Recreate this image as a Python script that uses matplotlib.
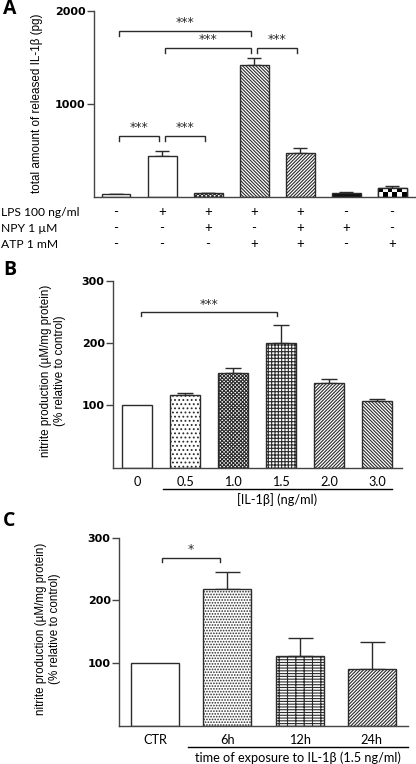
import matplotlib
matplotlib.use("Agg")
import matplotlib.pyplot as plt
import matplotlib.transforms as mtransforms
import numpy as np

# ── Data ─────────────────────────────────────────────────────────
# Panel A: released IL-1b (pg)
a_vals = [30, 440, 40, 1415, 470, 46, 100]
a_err = [5, 58, 5, 83, 53, 4, 15]
a_lps = ["-", "+", "+", "+", "+", "-", "-"]
a_npy = ["-", "-", "+", "-", "+", "+", "-"]
a_atp = ["-", "-", "-", "+", "+", "-", "+"]
a_rows = ["LPS 100 ng/ml", "NPY 1 µM", "ATP 1 mM"]
a_brackets = [(0, 3, 1790), (1, 3, 1605), (3, 4, 1605), (0, 1, 656), (1, 2, 656)]

# Panel B: nitrite vs IL-1b concentration
b_labels = ["0", "0.5", "1.0", "1.5", "2.0", "3.0"]
b_vals = [100, 117, 152, 201, 136, 107]
b_err = [0, 3, 8, 29, 6, 3]
b_brackets = [(0, 3, 250)]

# Panel C: nitrite vs exposure time
c_labels = ["CTR", "6h", "12h", "24h"]
c_vals = [100, 218, 111, 91]
c_err = [0, 27, 29, 43]
c_brackets = [(0, 1, 268)]

# ── Style ────────────────────────────────────────────────────────
INK = "#2b2b2b"
plt.rcParams.update(
    {
        "hatch.linewidth": 0.8,
        "axes.linewidth": 1.0,
        "axes.edgecolor": "#444444",
        "font.family": "Liberation Sans",
    }
)
TICK_FONT = dict(family="DejaVu Sans", weight="bold", size=8)
CAL_FONT = dict(family="Lato", size=9.2)

fig = plt.figure(figsize=(4.16, 7.64), dpi=100)
W, H = 416.0, 764.0


def make_axes(left, right, top, bottom):
    return fig.add_axes([left / W, 1 - bottom / H, (right - left) / W, (bottom - top) / H])


def style_axes(ax, yticks, ylim):
    for s in ("top", "right"):
        ax.spines[s].set_visible(False)
    ax.set_ylim(*ylim)
    ax.set_yticks(yticks)
    ax.set_yticklabels([str(t) for t in yticks], fontdict=TICK_FONT)
    ax.tick_params(axis="y", length=5, width=1.0, pad=1, color="#444444")
    ax.tick_params(axis="x", length=0)


def draw_brackets(ax, brackets, drop, star, star_size=9, inset=0.06):
    for i, j, y in brackets:
        x1, x2 = i + inset, j - inset
        ax.plot([x1, x1, x2, x2], [y - drop, y, y, y - drop], color=INK, lw=1.0,
                clip_on=False, solid_joinstyle="miter")
        ax.text((x1 + x2) / 2, y + drop * 0.3, star, ha="center", va="bottom",
                fontsize=star_size, color=INK, family="DejaVu Sans")


def upper_errors(ax, x, vals, err, capsize):
    x = np.asarray(x)
    vals = np.asarray(vals, dtype=float)
    err = np.asarray(err, dtype=float)
    keep = err > 0
    ax.errorbar(x[keep], vals[keep], yerr=[np.zeros(keep.sum()), err[keep]],
                fmt="none", ecolor=INK, elinewidth=1.0, capsize=capsize,
                capthick=1.0, zorder=1)


# ── Panel A ──────────────────────────────────────────────────────
axA = make_axes(94, 416, 11, 197)
xa = np.arange(len(a_vals))
a_hatch = [None, None, "xxxxxxxx", "\\" * 10, "/" * 10, None, None]
a_face = ["white", "white", "white", "white", "white", "#111111", "white"]
upper_errors(axA, xa, a_vals, a_err, 5)
barsA = axA.bar(xa, a_vals, width=0.63, color=a_face, edgecolor=INK,
                linewidth=1.0, hatch=a_hatch, zorder=2)
# checkerboard fill for the last bar
p = barsA[6]
checker = np.indices((2, 6)).sum(axis=0) % 2
im = axA.imshow(checker, extent=(p.get_x(), p.get_x() + p.get_width(), 0, p.get_height()),
                cmap="gray", interpolation="nearest", aspect="auto", zorder=2.5)
im.set_clip_path(p)
axA.bar(xa[6:], a_vals[6:], width=0.63, color="none", edgecolor=INK, linewidth=1.0, zorder=3)
axA.set_xlim(-0.478, 6.52)
style_axes(axA, [1000, 2000], (0, 2000))
axA.set_xticks([])
axA.set_ylabel("total amount of released IL-1β (pg)", fontsize=8.4)
axA.yaxis.set_label_coords(-0.158, 0.505)
draw_brackets(axA, a_brackets, 55, "***")

trA = mtransforms.blended_transform_factory(axA.transData, axA.transAxes)
for r, (row, signs) in enumerate(zip(a_rows, [a_lps, a_npy, a_atp])):
    yy = -(15 + 16 * r) / 186.0
    fig.text(1 / W, 1 - (212 + 16 * r) / H, row, ha="left", va="center",
             family="Lato", fontsize=8.7)
    for i, s in enumerate(signs):
        axA.text(xa[i], yy, s, transform=trA, ha="center", va="center",
                 family="Lato", fontsize=9.5)

# ── Panel B ──────────────────────────────────────────────────────
axB = make_axes(113, 402, 281, 467.7)
xb = np.arange(len(b_vals))
b_hatch = [None, "....", "xxxxxxxxx", "+++++", "/" * 10, "\\" * 10]
upper_errors(axB, xb, b_vals, b_err, 6)
axB.bar(xb, b_vals, width=0.625, color="white", edgecolor=INK, linewidth=1.0,
        hatch=b_hatch, zorder=2)
axB.set_xlim(-0.5, 5.52)
style_axes(axB, [100, 200, 300], (0, 300))
axB.set_xticks(xb)
axB.set_xticklabels(b_labels, fontdict=CAL_FONT)
axB.tick_params(axis="x", pad=6)
axB.set_ylabel("nitrite production (µM/mg protein)\n(% relative to control)", fontsize=8.4)
axB.yaxis.set_label_coords(-0.164, 0.52)
draw_brackets(axB, b_brackets, 7, "***", inset=0.075)
trB = mtransforms.blended_transform_factory(axB.transData, axB.transAxes)
axB.plot([0.54, 5.31], [-0.114, -0.114], transform=trB, color="black", lw=1.0, clip_on=False)
axB.text((0.54 + 5.31) / 2, -0.168, "[IL-1β] (ng/ml)", transform=trB, ha="center",
         va="center", **CAL_FONT)

# ── Panel C ──────────────────────────────────────────────────────
axC = make_axes(119, 408, 537.7, 726)
xc = np.arange(len(c_vals))
c_hatch = [None, "......", "------||", "/" * 10]
upper_errors(axC, xc, c_vals, c_err, 9)
axC.bar(xc, c_vals, width=0.664, color="white", edgecolor=INK, linewidth=1.0,
        hatch=c_hatch, zorder=2)
axC.set_xlim(-0.498, 3.5)
style_axes(axC, [100, 200, 300], (0, 300))
axC.set_xticks(xc)
axC.set_xticklabels(c_labels, fontdict=CAL_FONT)
axC.tick_params(axis="x", pad=6)
axC.set_ylabel("nitrite production (µM/mg protein)\n(% relative to control)", fontsize=8.4)
axC.yaxis.set_label_coords(-0.202, 0.518)
draw_brackets(axC, c_brackets, 7, "*", inset=0.1)
trC = mtransforms.blended_transform_factory(axC.transData, axC.transAxes)
axC.plot([0.456, 3.5], [-0.11, -0.11], transform=trC, color="black", lw=1.0, clip_on=False)
axC.text((0.456 + 3.5) / 2, -0.168, "time of exposure to IL-1β (1.5 ng/ml)",
         transform=trC, ha="center", va="center", **CAL_FONT)

# ── Panel letters ────────────────────────────────────────────────
for letter, yp in [("A", 9), ("B", 270), ("C", 521)]:
    fig.text(3 / W, 1 - yp / H, letter, ha="left", va="center", fontsize=14,
             weight="bold", family="Open Sans")

fig.savefig("out.png", dpi=100)
